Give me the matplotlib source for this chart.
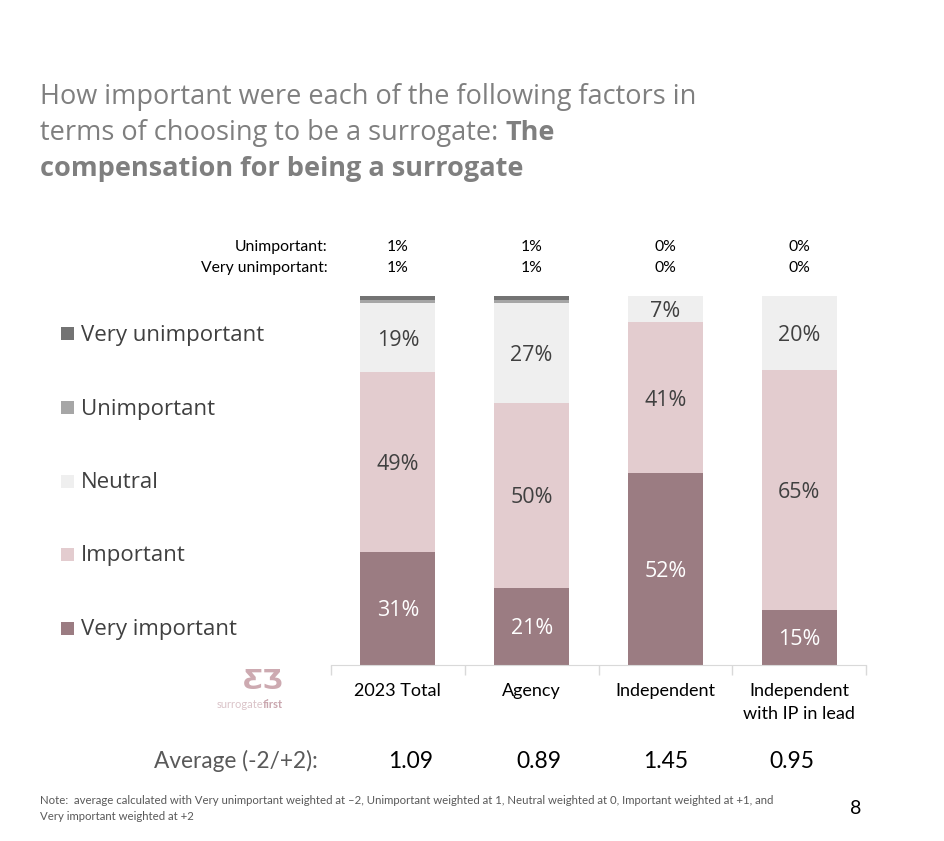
import numpy as np
import matplotlib
matplotlib.use('Agg')
import matplotlib.pyplot as plt
from matplotlib.patches import Rectangle

# data
groups = ['2023 Total', 'Agency', 'Independent', 'Independent\nwith IP in lead']
levels = ['Very important', 'Important', 'Neutral', 'Unimportant', 'Very unimportant']
very_important = [30.7, 21, 52, 15]
important = [48.6, 50, 41, 65]
neutral = [18.7, 27, 7, 20]
unimportant = [1, 1, 0, 0]
very_unimportant = [1, 1, 0, 0]
averages = ['1.09', '0.89', '1.45', '0.95']

colors = ['#9B7C82', '#E3CCCF', '#EFEFEF', '#A6A6A6', '#737373']
W, H = 945, 841


def fx(x):
	return x / W


def fy(y):
	return 1 - y / H


plt.rcParams['font.family'] = ['Open Sans', 'DejaVu Sans']
fig = plt.figure(figsize=(W / 100, H / 100), dpi=100)
ax = fig.add_axes([fx(331), fy(665), (866 - 331) / W, (665 - 296) / H])

series = [very_important, important, neutral, unimportant, very_unimportant]
x = np.arange(len(groups))
bottom = np.zeros(len(groups))
for k, vals in enumerate(series):
	vals = np.array(vals, dtype=float)
	ax.bar(x, vals, 0.56, bottom=bottom, color=colors[k], linewidth=0)
	for i, v in enumerate(vals):
		if v >= 5:
			c = 'white' if k == 0 else '#404040'
			ax.text(x[i], bottom[i] + v / 2 - 0.7, f'{v:.0f}%', ha='center', va='center',
					fontsize=15.5, color=c)
	bottom += vals

ax.set_xlim(-0.5, len(groups) - 0.5)
ax.set_ylim(0, 100)
for s in ['top', 'left', 'right']:
	ax.spines[s].set_visible(False)
ax.spines['bottom'].set_color('#D9D9D9')
ax.set_yticks([])
ax.set_xticks(np.arange(len(groups) + 1) - 0.5)
ax.set_xticklabels([])
ax.tick_params(axis='x', length=7, color='#D9D9D9', width=1)

# category labels
trans = matplotlib.transforms.blended_transform_factory(ax.transData, fig.transFigure)
for i, g in enumerate(groups):
	ax.text(x[i], fy(683), g, transform=trans, ha='center', va='top', fontsize=13,
			color='black', family='Lato', linespacing=1.55)

# small rows above the bars
fig.text(fx(328), fy(247), 'Unimportant:', ha='right', va='center', fontsize=11.3, family='Lato')
fig.text(fx(328), fy(268), 'Very unimportant:', ha='right', va='center', fontsize=11.3, family='Lato')
for i in range(len(groups)):
	xf = ax.transData.transform((x[i], 0))[0] / W
	fig.text(xf, fy(247), f'{unimportant[i]:.0f}%', ha='center', va='center', fontsize=11.3, family='Lato')
	fig.text(xf, fy(268), f'{very_unimportant[i]:.0f}%', ha='center', va='center', fontsize=11.3, family='Lato')

# averages sit in their own text boxes, slightly off the bar centres
avg_x = [411, 539, 666, 792]
for xx, a in zip(avg_x, averages):
	fig.text(fx(xx), fy(761), a, ha='center', va='center', fontsize=16.5, family='Lato')
fig.text(fx(318), fy(761), 'Average (-2/+2):', ha='right', va='center', fontsize=16.3,
		 family='Lato', color='#595959')

# legend
legend_y = [333, 407, 481, 554, 628]
for lab, col, yy in zip(levels[::-1], colors[::-1], legend_y):
	fig.patches.append(Rectangle((fx(61), fy(yy + 7)), 13 / W, 13 / H, transform=fig.transFigure,
								 facecolor=col, edgecolor='none'))
	fig.text(fx(81), fy(yy + 2), lab, ha='left', va='center', fontsize=16, color='#404040')

# title
tc = '#7F7F7F'
ts = 19.5
fig.text(fx(40), fy(97), 'How important were each of the following factors in', ha='left', va='center',
		 fontsize=ts, color=tc)
t2 = fig.text(fx(40), fy(133), 'terms of choosing to be a surrogate: ', ha='left', va='center',
			  fontsize=ts, color=tc)
fig.canvas.draw()
bb = t2.get_window_extent()
fig.text(bb.x1 / W, fy(133), 'The', ha='left', va='center', fontsize=ts, color=tc, weight='bold')
fig.text(fx(40), fy(169), 'compensation for being a surrogate', ha='left', va='center',
		 fontsize=ts, color=tc, weight='bold')

# logo
fig.text(fx(263), fy(682), '\u01b8\u01b7', ha='center', va='center', fontsize=19, color='#CDAAB1',
		 family='DejaVu Sans', weight='bold')
fig.text(fx(263), fy(705), 'surrogate', ha='right', va='center', fontsize=8, color='#DAC3C8', family='Lato')
fig.text(fx(263), fy(705), 'first', ha='left', va='center', fontsize=8, color='#C9A6AE',
		 family='Lato', weight='bold')

# footnote
fig.text(fx(40), fy(801), 'Note:  average calculated with Very unimportant weighted at \u20132, Unimportant weighted at 1, '
		 'Neutral weighted at 0, Important weighted at +1, and', ha='left', va='center', fontsize=8.2,
		 color='#595959', family='Lato')
fig.text(fx(40), fy(817), 'Very important weighted at +2', ha='left', va='center', fontsize=8.2,
		 color='#595959', family='Lato')
fig.text(fx(856), fy(809), '8', ha='center', va='center', fontsize=14, family='Lato')

fig.savefig('out.png', dpi=100, facecolor='white')
